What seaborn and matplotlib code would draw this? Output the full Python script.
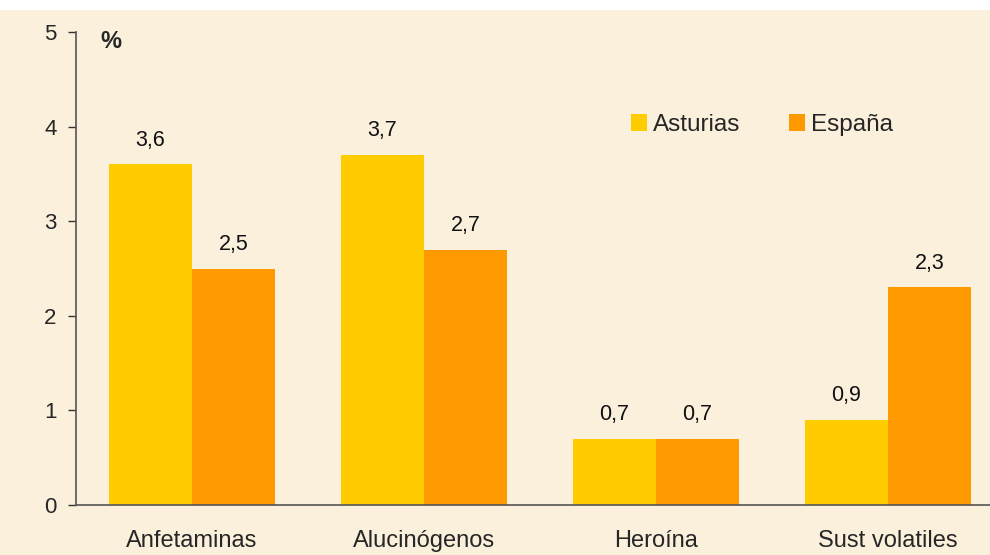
import matplotlib
matplotlib.use("Agg")
import matplotlib.pyplot as plt
import seaborn as sns
import pandas as pd
from matplotlib.patches import Patch, Rectangle

categories = ["Anfetaminas", "Alucinógenos", "Heroína", "Sust volatiles"]
asturias = [3.6, 3.7, 0.7, 0.9]
espana = [2.5, 2.7, 0.7, 2.3]
series = ["Asturias", "España"]
colors = ["#FFCC00", "#FF9900"]
yticks = [0, 1, 2, 3, 4, 5]

df = pd.DataFrame({
    "cat": categories * 2,
    "val": asturias + espana,
    "serie": [series[0]] * 4 + [series[1]] * 4,
})

sns.set_theme(style="white")
plt.rcParams['font.family'] = ['Liberation Sans', 'DejaVu Sans']

bg = "#FBF0DC"
fig = plt.figure(figsize=(9.9, 5.55), dpi=100, facecolor="white")
fig.patches.append(Rectangle((0, 0), 1, 1 - 10/555, transform=fig.transFigure,
                             facecolor=bg, edgecolor="none", zorder=-10))
ax = fig.add_axes([76/990, 50/555, 928/990, 473/555])
ax.set_facecolor("none")

sns.barplot(data=df, x="cat", y="val", hue="serie", palette=colors,
            width=0.716, gap=0, saturation=1, ax=ax, legend=False,
            edgecolor="none", linewidth=0)

for cont in ax.containers:
    labels = [f"{b.get_height():.1f}".replace(".", ",") for b in cont]
    ax.bar_label(cont, labels=labels, padding=10, fontsize=15.5, color="#111111")

ax.set_xlim(-0.5, 3.5)
ax.set_ylim(0, 5)
ax.set_yticks(yticks)
ax.set_yticklabels([str(t) for t in yticks], fontsize=16)
ax.set_xticks(range(4))
ax.set_xticklabels(categories, fontsize=17)
ax.tick_params(axis="x", length=0, pad=18)
ax.set_xticks([0.5, 1.5, 2.5], minor=True)
ax.tick_params(axis="x", which="minor", length=6, width=1, color="#333333", direction="out")
ax.tick_params(axis="y", length=6, width=1, color="#333333", direction="out", pad=8, left=True)
ax.set_xlabel("")
ax.set_ylabel("")
for s in ["top", "right"]:
    ax.spines[s].set_visible(False)
for s in ["left", "bottom"]:
    ax.spines[s].set_color("#555555")
    ax.spines[s].set_linewidth(1.2)

fig.text(111/990, 1 - 41/555, "%", fontsize=17, fontweight="bold", ha="center", va="center")

handles = [Patch(facecolor=c, edgecolor="none") for c in colors]
ax.legend(handles, series, loc="center left", bbox_to_anchor=(609/990, 1 - 125/555),
          bbox_transform=fig.transFigure, ncol=2, frameon=False, fontsize=17.5,
          handlelength=0.65, handleheight=0.65, handletextpad=0.25, columnspacing=2.0)

fig.savefig("out.png", dpi=100, facecolor="white")
